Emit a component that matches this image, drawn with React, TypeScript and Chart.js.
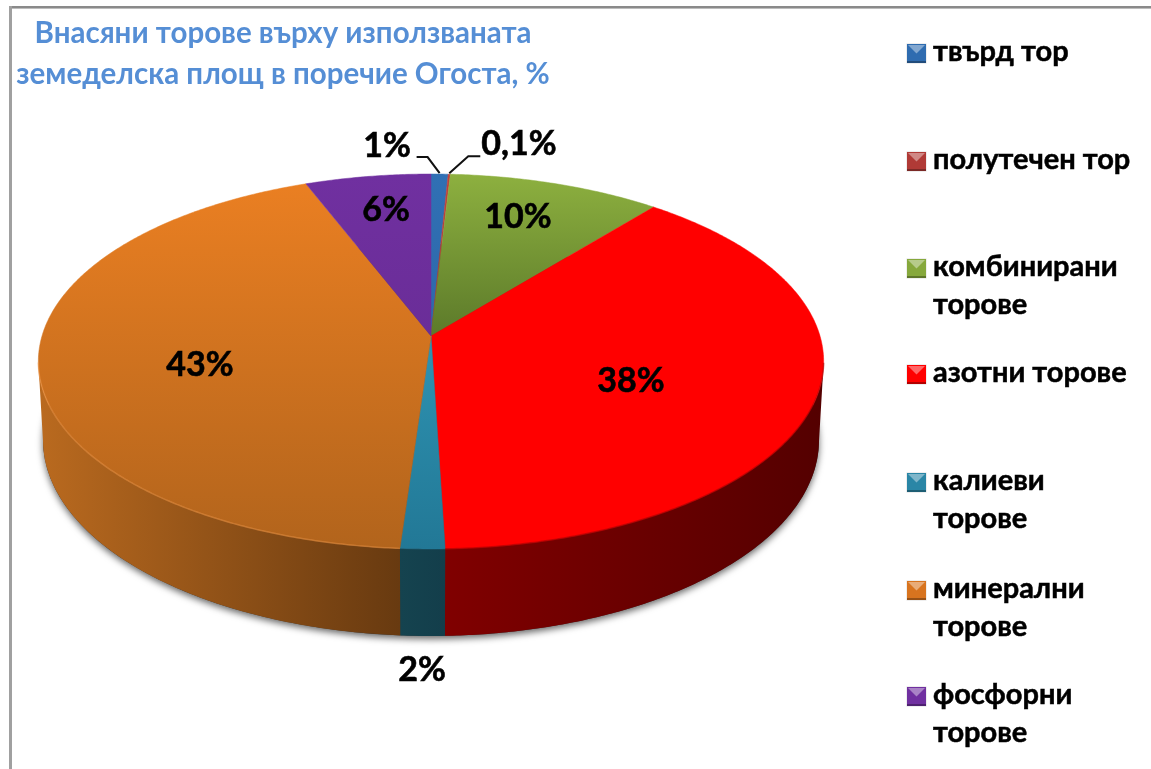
import React, { useEffect, useRef } from "react";
import { Chart, registerables } from "chart.js";

Chart.register(...registerables);

const FONT = "Lato, 'Open Sans', 'Noto Sans', sans-serif";

const categories = ["твърд тор", "полутечен тор", "комбинирани торове", "азотни торове", "калиеви торове", "минерални торове", "фосфорни торове"];
const legendLines = [["твърд тор"], ["полутечен тор"], ["комбинирани", "торове"], ["азотни торове"], ["калиеви", "торове"], ["минерални", "торове"], ["фосфорни", "торове"]];
const sliceValues = [0.8, 0.1, 10, 38.6, 1.6, 43, 5.9];
const shownLabels = ["1%", "0,1%", "10%", "38%", "2%", "43%", "6%"];
const baseColors = ["#2F6CB0", "#B03A36", "#86A83C", "#FF0000", "#2A86A6", "#D8741F", "#7030A0"];
const faceTop = ["#3070B4", "#C0403A", "#8DB03F", "#FF0000", "#2E93B2", "#EA7F22", "#7030A0"];
const faceBottom = ["#2D68AA", "#B03A36", "#5C7A2A", "#FF0000", "#227896", "#B2641C", "#6A2D98"];
const titleLines = ["Внасяни торове върху използваната", "земеделска площ в поречие Огоста, %"];

// perspective projection of the pie disc
const CX = 431, CY = 336, P = -0.136, A = 184, C = 389;
const TOP = { y: 361.5, rx: 392.5, ry: 187.5 };
const BOT = { y: 440, rx: 388, ry: 196 };

const project = (th: number, r = 1) => {
  const u = r * Math.sin(th), v = -r * Math.cos(th), w = 1 + P * v;
  return { x: CX + (C * u) / w, y: CY + (A * v) / w };
};
const lowerPoint = (p: { x: number; y: number }) => {
  const psi = Math.atan2((p.y - TOP.y) / TOP.ry, (p.x - CX) / TOP.rx);
  return { psi, x: CX + BOT.rx * Math.cos(psi), y: BOT.y + BOT.ry * Math.sin(psi) };
};

const labelSpots: Record<string, [number, number]> = {
  "1%": [387, 146], "0,1%": [519, 144], "10%": [518, 217], "38%": [631, 381], "2%": [422, 670], "43%": [200, 365], "6%": [386, 210],
};
const legendTops = [52, 160, 267, 373, 481, 589, 695];
const LEGEND_STEP = 38;

function shade(hex: string, k: number) {
  const n = parseInt(hex.slice(1), 16);
  const ch = [(n >> 16) & 255, (n >> 8) & 255, n & 255].map((c) =>
    Math.round(k >= 0 ? c + (255 - c) * k : c * (1 + k)));
  return `rgb(${ch[0]},${ch[1]},${ch[2]})`;
}

const pie3d = {
  id: "pie3d",
  beforeDraw(chart: any) {
    const ctx = chart.ctx;
    ctx.save();
    ctx.fillStyle = "#fff";
    ctx.fillRect(0, 0, chart.width, chart.height);
    ctx.fillStyle = "#8A8A8A";
    ctx.fillRect(9, 6, chart.width - 9, 2);
    ctx.fillStyle = "#BDBDBD";
    ctx.fillRect(9, 8, chart.width - 9, 1);
    ctx.fillStyle = "#A0A0A0";
    ctx.fillRect(9, 6, 3, chart.height - 6);
    ctx.restore();
  },
  beforeDatasetsDraw(chart: any) {
    const ctx = chart.ctx;
    const arcs = chart.getDatasetMeta(0).data;
    const step = Math.PI / 360;
    ctx.save();

    // soft shadow under the base
    ctx.save();
    ctx.shadowColor = "rgba(0,0,0,0.6)";
    ctx.shadowBlur = 7;
    ctx.shadowOffsetY = 3;
    ctx.fillStyle = "#333";
    ctx.beginPath();
    ctx.ellipse(CX, BOT.y, BOT.rx, BOT.ry, 0, 0, Math.PI * 2);
    ctx.fill();
    ctx.restore();

    const samples = arcs.map((arc: any) => {
      const s = arc.startAngle + Math.PI / 2, e = arc.endAngle + Math.PI / 2;
      const pts: { x: number; y: number }[] = [];
      const n = Math.max(2, Math.ceil((e - s) / step));
      for (let k = 0; k <= n; k++) pts.push(project(s + ((e - s) * k) / n));
      return pts;
    });

    // walls
    const wallStops: Record<number, [number, string, number, string]> = {
      3: [445, "#800000", 823, "#540000"],
      4: [400, "#15434F", 445, "#133E4B"],
      5: [38, "#BA6A1F", 400, "#683A10"],
    };
    samples.forEach((pts: any[], i: number) => {
      const front = pts.filter((p) => lowerPoint(p).psi >= 0);
      if (front.length < 2) return;
      const st = wallStops[i] || [CX - 400, shade(baseColors[i], -0.5), CX + 400, shade(baseColors[i], -0.6)];
      const g = ctx.createLinearGradient(st[0], 0, st[2], 0);
      g.addColorStop(0, st[1]);
      g.addColorStop(1, st[3]);
      ctx.fillStyle = g;
      ctx.beginPath();
      front.forEach((p, k) => (k ? ctx.lineTo(p.x, p.y) : ctx.moveTo(p.x, p.y)));
      [...front].reverse().forEach((p) => {
        const b = lowerPoint(p);
        ctx.lineTo(b.x, b.y);
      });
      ctx.closePath();
      ctx.fill();
    });

    // top faces
    samples.forEach((pts: any[], i: number) => {
      const ys = pts.map((p) => p.y).concat(CY);
      const g = ctx.createLinearGradient(0, Math.min(...ys), 0, Math.max(...ys));
      g.addColorStop(0, faceTop[i]);
      g.addColorStop(1, faceBottom[i]);
      ctx.fillStyle = g;
      ctx.strokeStyle = g;
      ctx.lineWidth = 0.5;
      ctx.beginPath();
      ctx.moveTo(CX, CY);
      pts.forEach((p) => ctx.lineTo(p.x, p.y));
      ctx.closePath();
      ctx.fill();
      ctx.stroke();
    });

    // rim light along the front edge only
    const rims: Record<number, string> = { 3: "rgba(170,0,0,0.55)", 5: "rgba(240,150,70,0.5)" };
    Object.keys(rims).forEach((key) => {
      const i = Number(key);
      ctx.strokeStyle = rims[i];
      ctx.lineWidth = 1.5;
      ctx.beginPath();
      samples[i]
        .filter((p: any) => lowerPoint(p).psi >= 0)
        .forEach((p: any, k: number) => (k ? ctx.lineTo(p.x, p.y) : ctx.moveTo(p.x, p.y)));
      ctx.stroke();
    });

    // leader lines for the two thin slices
    const mid = (a: any) => (a.startAngle + a.endAngle) / 2 + Math.PI / 2;
    const leader = (i: number, dx1: number, dx2: number, dy: number) => {
      const r = project(mid(arcs[i]));
      ctx.beginPath();
      ctx.moveTo(r.x, r.y - 1);
      ctx.lineTo(r.x + dx1, r.y + dy);
      ctx.lineTo(r.x + dx2, r.y + dy);
      ctx.stroke();
    };
    ctx.strokeStyle = "#111";
    ctx.lineWidth = 2;
    leader(0, -12, -23, -17);
    leader(1, 19, 31, -18);

    // slice labels
    ctx.fillStyle = "#000";
    ctx.strokeStyle = "#000";
    ctx.lineWidth = 0.6;
    ctx.font = `bold 34px ${FONT}`;
    ctx.textAlign = "center";
    ctx.textBaseline = "middle";
    shownLabels.forEach((t) => {
      ctx.fillText(t, labelSpots[t][0], labelSpots[t][1]);
      ctx.strokeText(t, labelSpots[t][0], labelSpots[t][1]);
    });

    // legend
    legendLines.forEach((lines, i) => {
      const y0 = legendTops[i];
      const bx = 907, by = y0 - 8, bs = 19;
      ctx.fillStyle = "rgba(200,200,200,0.6)";
      ctx.fillRect(bx - 0.5, by - 0.5, bs + 1, bs + 1);
      const c = baseColors[i];
      ctx.fillStyle = c;
      ctx.fillRect(bx, by, bs, bs);
      ctx.fillStyle = shade(c, 0.4);
      ctx.beginPath();
      ctx.moveTo(bx + 1, by + 1);
      ctx.lineTo(bx + bs - 1, by + 1);
      ctx.lineTo(bx + bs / 2, by + bs / 2);
      ctx.closePath();
      ctx.fill();
      ctx.fillStyle = shade(c, -0.3);
      ctx.fillRect(bx, by + bs - 2, bs, 2);
      ctx.fillStyle = "#000";
      ctx.strokeStyle = "#000";
      ctx.lineWidth = 0.5;
      ctx.font = `bold 29px ${FONT}`;
      ctx.textAlign = "left";
      ctx.textBaseline = "middle";
      lines.forEach((t, k) => {
        ctx.fillText(t, 933, y0 + k * LEGEND_STEP);
        ctx.strokeText(t, 933, y0 + k * LEGEND_STEP);
      });
    });

    ctx.restore();
    return false;
  },
};

export default function App() {
  const ref = useRef<HTMLCanvasElement>(null);
  useEffect(() => {
    document.body.style.margin = "0";
    const chart = new Chart(ref.current as HTMLCanvasElement, {
      type: "pie",
      data: {
        labels: categories,
        datasets: [{ data: sliceValues, backgroundColor: baseColors, borderWidth: 0 }],
      },
      plugins: [pie3d],
      options: {
        responsive: false,
        animation: false,
        layout: { padding: { right: 585 } },
        plugins: {
          legend: { display: false },
          tooltip: { enabled: false },
          title: {
            display: true,
            fullSize: false,
            text: titleLines,
            color: "#558ED5",
            font: { family: FONT, size: 29.5, weight: "bold", lineHeight: 1.39 },
            padding: { top: 13, bottom: 0 },
          },
        },
      },
    } as any);
    return () => chart.destroy();
  }, []);
  return <canvas ref={ref} width={1151} height={769} style={{ display: "block" }} />;
}
